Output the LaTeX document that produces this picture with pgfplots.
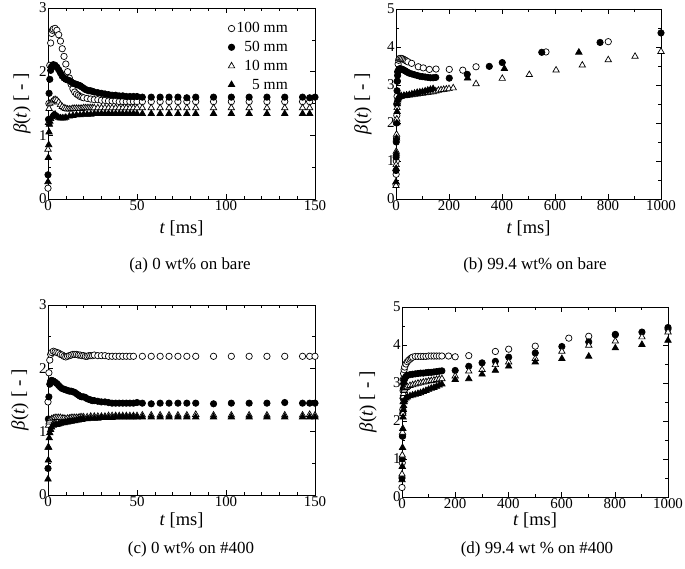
\documentclass[border=0pt]{standalone}
\usepackage{fontspec}
\setmainfont{Liberation Serif}
\usepackage{pgfplots}
\pgfplotsset{compat=1.18}
\pgfplotsset{
  myaxis/.style={
    scale only axis,
    clip=false,
    axis line style={line width=0.8bp},
    tick style={line width=0.6bp, black},
    major tick length=5bp, minor tick length=3bp,
    tick align=inside,
    /pgf/number format/assume math mode=true,
    /pgf/number format/1000 sep={},
    tick label style={font=\fontsize{15}{17}\selectfont, inner sep=1.2bp},
    xlabel={\textit{t} [ms]},
    ylabel={\textit{β}(\textit{t}) [ - ]},
    xlabel style={font=\fontsize{18.5}{20}\selectfont, anchor=center},
    ylabel style={font=\fontsize{19}{20}\selectfont, anchor=center},
  },
  c100/.style={only marks, mark=*, mark size=3.2bp, mark options={fill=white, draw=black, line width=0.7bp}},
  c50/.style={only marks, mark=*, mark size=3.2bp, mark options={fill=black, draw=black, line width=0.7bp}},
  t10/.style={only marks, mark=triangle*, mark size=3.7bp, mark options={fill=white, draw=black, line width=0.7bp}},
  t5/.style={only marks, mark=triangle*, mark size=3.7bp, mark options={fill=black, draw=black, line width=0.7bp}},
  shortax/.style={xmin=0, xmax=150, ymin=0, ymax=3, xtick={0,50,100,150}, ytick={0,1,2,3}, minor x tick num=4, minor y tick num=1},
  longax/.style={xmin=0, xmax=1000, ymin=0, ymax=5, xtick={0,200,400,600,800,1000}, ytick={0,1,2,3,4,5}, minor x tick num=1, minor y tick num=1},
}
\begin{document}
\begin{tikzpicture}
\path[use as bounding box] (0,0) rectangle (685bp,569bp);
% ---------------- (a)
\begin{axis}[myaxis, shortax, at={(48bp,370bp)}, anchor=south west, width=267bp, height=191bp,
  xlabel style={at={(axis description cs:0.5,-0.152)}},
  ylabel style={at={(axis description cs:-0.097,0.5)}},
  legend style={draw=none, fill=none, at={(0.91,0.94)}, anchor=north east, font=\fontsize{15.5}{17}\selectfont, row sep=3bp, inner sep=1bp},
  legend cell align=right]
\addplot[c100] coordinates {(0,0.17)(0.5,1.5)(1,2.1)(1.5,2.45)(2,2.6)(2.5,2.65)(3,2.67)(4,2.68)(5,2.65)(6,2.58)(7,2.48)(8,2.36)(9,2.24)(10,2.12)(11,2.0)(12,1.9)(13,1.8)(14,1.73)(15,1.68)(16,1.65)(17,1.63)(18,1.61)(19,1.6)(20,1.59)(22,1.58)(24,1.57)(26,1.56)(28,1.56)(30,1.55)(32,1.55)(34,1.54)(36,1.54)(38,1.54)(40,1.53)(42,1.53)(44,1.53)(46,1.53)(48,1.53)(50,1.53)(53,1.53)(58,1.53)(63,1.53)(68,1.53)(73,1.53)(78,1.53)(83,1.53)(93,1.53)(103,1.53)(113,1.53)(123,1.53)(133,1.53)(143,1.53)(147,1.53)};
\addlegendentry{100 mm}
\addplot[c50] coordinates {(0,0.38)(0.3,1.25)(0.6,1.66)(1,1.88)(1.5,2.02)(2,2.08)(3,2.11)(4,2.1)(5,2.07)(6,2.03)(7,1.98)(8,1.93)(9,1.9)(10,1.88)(11,1.87)(12,1.86)(13,1.84)(14,1.82)(15,1.81)(16,1.8)(17,1.79)(18,1.78)(19,1.76)(20,1.74)(21,1.72)(22,1.71)(23,1.7)(24,1.7)(25,1.69)(26,1.68)(28,1.67)(30,1.66)(32,1.65)(34,1.64)(36,1.63)(38,1.63)(40,1.62)(42,1.62)(44,1.61)(46,1.61)(48,1.61)(50,1.61)(53,1.6)(58,1.6)(63,1.6)(68,1.6)(73,1.6)(78,1.59)(83,1.6)(93,1.6)(103,1.6)(113,1.6)(123,1.6)(133,1.6)(143,1.6)(147,1.59)(150,1.6)};
\addlegendentry{50 mm}
\addplot[t10] coordinates {(0,0.78)(0.3,1.2)(0.6,1.42)(1,1.5)(2,1.52)(3,1.55)(4,1.56)(5,1.55)(6,1.52)(7,1.48)(8,1.45)(9,1.43)(10,1.42)(11,1.41)(12,1.41)(13,1.41)(14,1.42)(15,1.42)(16,1.42)(17,1.42)(18,1.42)(19,1.42)(20,1.43)(21,1.43)(22,1.43)(23,1.43)(24,1.43)(25,1.43)(26,1.43)(28,1.43)(30,1.43)(32,1.43)(34,1.43)(36,1.43)(38,1.43)(40,1.43)(42,1.43)(44,1.43)(46,1.43)(48,1.43)(50,1.43)(53,1.43)(58,1.43)(63,1.43)(68,1.43)(73,1.43)(78,1.43)(83,1.43)(93,1.43)(103,1.43)(113,1.43)(123,1.43)(133,1.43)(143,1.43)(147,1.43)};
\addlegendentry{10 mm}
\addplot[t5] coordinates {(0,0.27)(0.2,0.65)(0.4,0.85)(0.6,1.05)(0.8,1.17)(1,1.22)(1.5,1.26)(2,1.29)(3,1.32)(4,1.33)(5,1.3)(6,1.28)(7,1.27)(8,1.27)(9,1.27)(10,1.28)(12,1.3)(14,1.31)(16,1.32)(18,1.32)(20,1.33)(22,1.33)(24,1.33)(26,1.34)(28,1.34)(30,1.34)(32,1.34)(34,1.34)(36,1.34)(38,1.34)(40,1.34)(42,1.34)(44,1.34)(46,1.34)(48,1.34)(50,1.34)(53,1.34)(58,1.34)(63,1.34)(68,1.34)(73,1.34)(78,1.34)(83,1.34)(93,1.34)(103,1.34)(113,1.34)(123,1.34)(133,1.34)(143,1.34)(147,1.34)};
\addlegendentry{5 mm}
\end{axis}
% ---------------- (b)
\begin{axis}[myaxis, longax, at={(396bp,370bp)}, anchor=south west, width=265bp, height=190bp,
  xlabel style={at={(axis description cs:0.5,-0.152)}},
  ylabel style={at={(axis description cs:-0.125,0.5)}}]
\addplot[c100] coordinates {(0,0.38)(0.5,0.65)(1,1.0)(2,1.6)(3,2.2)(4,2.7)(5,3.1)(6,3.35)(8,3.55)(10,3.65)(12,3.69)(15,3.7)(20,3.7)(25,3.69)(30,3.67)(35,3.65)(40,3.63)(45,3.61)(59,3.57)(84,3.48)(103,3.45)(126,3.41)(151,3.42)(201,3.41)(252,3.39)(302,3.48)(566,3.87)(801,4.14)};
\addplot[c50] coordinates {(0,0.75)(0.5,1.1)(1,1.5)(2,2.0)(3,2.5)(4,2.85)(5,3.1)(6,3.25)(8,3.35)(10,3.4)(12,3.42)(15,3.43)(20,3.42)(25,3.41)(30,3.39)(35,3.37)(40,3.35)(45,3.33)(50,3.31)(60,3.29)(70,3.27)(80,3.25)(90,3.23)(100,3.22)(110,3.21)(120,3.2)(130,3.19)(140,3.19)(150,3.2)(201,3.18)(269,3.28)(352,3.49)(401,3.59)(550,3.86)(770,4.12)(1000,4.37)};
\addplot[t10] coordinates {(0,0.35)(0.5,0.9)(1,1.25)(2,1.7)(3,2.1)(4,2.4)(5,2.55)(6,2.62)(8,2.66)(10,2.68)(15,2.69)(20,2.7)(30,2.71)(40,2.72)(50,2.73)(60,2.74)(70,2.75)(80,2.76)(90,2.77)(100,2.78)(110,2.79)(120,2.8)(130,2.81)(140,2.82)(150,2.84)(160,2.86)(170,2.87)(180,2.88)(190,2.89)(200,2.9)(216,2.92)(302,3.03)(401,3.17)(503,3.27)(604,3.39)(703,3.52)(801,3.66)(902,3.75)(1000,3.88)};
\addplot[t5] coordinates {(0,0.45)(0.5,0.8)(1,1.2)(2,1.6)(3,2.0)(4,2.3)(5,2.5)(6,2.6)(8,2.65)(10,2.68)(15,2.7)(20,2.71)(30,2.72)(40,2.73)(50,2.74)(60,2.76)(70,2.78)(80,2.8)(90,2.81)(100,2.82)(110,2.84)(120,2.86)(130,2.88)(140,2.9)(270,3.18)(409,3.43)(690,3.86)};
\end{axis}
% ---------------- (c)
\begin{axis}[myaxis, shortax, at={(48bp,74bp)}, anchor=south west, width=267bp, height=190bp,
  xlabel style={at={(axis description cs:0.5,-0.135)}},
  ylabel style={at={(axis description cs:-0.105,0.5)}}]
\addplot[c100] coordinates {(0,1.47)(0.5,1.93)(1,2.13)(1.5,2.22)(2,2.25)(3,2.27)(4,2.26)(5,2.25)(6,2.24)(7,2.22)(8,2.21)(9,2.19)(10,2.18)(11,2.19)(12,2.2)(13,2.21)(14,2.22)(15,2.22)(16,2.22)(17,2.21)(18,2.21)(19,2.2)(20,2.2)(21,2.19)(22,2.19)(23,2.2)(24,2.2)(25,2.2)(26,2.21)(28,2.2)(30,2.2)(32,2.2)(34,2.19)(36,2.19)(38,2.19)(40,2.19)(42,2.19)(44,2.19)(46,2.19)(48,2.19)(53,2.19)(58,2.19)(63,2.19)(68,2.19)(73,2.19)(78,2.19)(83,2.19)(93,2.19)(103,2.19)(113,2.19)(123,2.19)(133,2.19)(143,2.19)(147,2.19)(150,2.19)};
\addplot[c50] coordinates {(0,0.42)(0.2,1.2)(0.5,1.55)(1,1.75)(1.5,1.8)(2,1.81)(3,1.8)(4,1.78)(5,1.76)(6,1.73)(7,1.7)(8,1.68)(9,1.67)(10,1.66)(11,1.65)(12,1.64)(13,1.64)(14,1.63)(15,1.62)(16,1.6)(17,1.58)(18,1.56)(19,1.55)(20,1.55)(21,1.54)(22,1.52)(23,1.51)(24,1.5)(25,1.49)(26,1.49)(28,1.48)(30,1.47)(32,1.47)(34,1.46)(36,1.45)(38,1.45)(40,1.45)(42,1.45)(44,1.45)(46,1.45)(48,1.45)(50,1.46)(53,1.45)(58,1.44)(63,1.45)(68,1.45)(73,1.45)(78,1.45)(83,1.45)(93,1.44)(103,1.45)(113,1.45)(123,1.45)(133,1.46)(143,1.45)(147,1.45)(150,1.45)};
\addplot[t10] coordinates {(0,0.75)(0.3,1.1)(0.6,1.15)(1,1.18)(2,1.2)(3,1.21)(4,1.22)(5,1.22)(6,1.22)(7,1.22)(8,1.21)(9,1.21)(10,1.2)(11,1.21)(12,1.21)(13,1.22)(14,1.22)(15,1.22)(16,1.22)(17,1.22)(18,1.23)(19,1.23)(20,1.23)(22,1.23)(24,1.24)(26,1.24)(28,1.24)(30,1.24)(32,1.24)(34,1.25)(36,1.25)(38,1.25)(40,1.25)(42,1.25)(44,1.25)(46,1.25)(48,1.25)(50,1.25)(53,1.26)(58,1.26)(63,1.26)(68,1.26)(73,1.26)(78,1.26)(83,1.27)(93,1.26)(103,1.26)(113,1.26)(123,1.26)(133,1.26)(143,1.26)(147,1.27)(150,1.26)};
\addplot[t5] coordinates {(0,0.25)(0.2,0.55)(0.4,0.75)(0.7,0.9)(1,0.98)(1.5,1.03)(2,1.07)(3,1.1)(4,1.11)(5,1.11)(6,1.12)(7,1.13)(8,1.14)(9,1.14)(10,1.15)(11,1.15)(12,1.16)(13,1.16)(14,1.17)(15,1.17)(16,1.18)(17,1.18)(18,1.19)(19,1.19)(20,1.2)(22,1.2)(24,1.21)(26,1.21)(28,1.21)(30,1.22)(32,1.22)(34,1.22)(36,1.22)(38,1.23)(40,1.23)(42,1.23)(44,1.23)(46,1.23)(48,1.23)(50,1.23)(53,1.23)(58,1.23)(63,1.23)(68,1.23)(73,1.23)(78,1.23)(83,1.23)(93,1.23)(103,1.23)(113,1.23)(123,1.23)(133,1.23)(143,1.23)(147,1.23)(150,1.23)};
\end{axis}
% ---------------- (d)
\begin{axis}[myaxis, longax, at={(402bp,72bp)}, anchor=south west, width=266bp, height=190bp,
  xlabel style={at={(axis description cs:0.5,-0.125)}},
  ylabel style={at={(axis description cs:-0.128,0.5)}}]
\addplot[c100] coordinates {(0,0.25)(1,0.9)(2,1.6)(3,2.3)(4,2.8)(5,3.1)(6,3.25)(8,3.35)(10,3.42)(15,3.5)(20,3.56)(25,3.6)(30,3.63)(35,3.66)(40,3.68)(50,3.7)(60,3.7)(70,3.7)(80,3.7)(90,3.7)(100,3.71)(110,3.71)(120,3.71)(130,3.71)(140,3.71)(150,3.71)(175,3.71)(200,3.69)(251,3.72)(351,3.83)(401,3.89)(501,3.97)(627,4.18)(702,4.23)(802,4.28)(1000,4.42)};
\addplot[c50] coordinates {(0,0.5)(1,1.0)(2,1.6)(3,2.2)(4,2.6)(5,2.85)(6,2.98)(8,3.07)(10,3.12)(15,3.17)(20,3.2)(30,3.22)(40,3.23)(50,3.24)(60,3.25)(70,3.26)(80,3.26)(90,3.27)(100,3.28)(110,3.28)(120,3.29)(130,3.3)(140,3.31)(150,3.32)(200,3.33)(251,3.44)(301,3.53)(351,3.57)(401,3.68)(501,3.79)(601,3.96)(702,4.08)(802,4.27)(902,4.34)(1000,4.46)};
\addplot[t10] coordinates {(0,0.6)(1,1.1)(2,1.7)(3,2.2)(4,2.5)(5,2.65)(6,2.72)(8,2.8)(10,2.84)(15,2.88)(20,2.9)(30,2.93)(40,2.95)(50,2.97)(60,2.99)(70,3.0)(80,3.02)(90,3.03)(100,3.05)(110,3.06)(120,3.07)(130,3.09)(140,3.1)(150,3.11)(200,3.18)(251,3.31)(301,3.35)(351,3.48)(401,3.55)(501,3.64)(601,3.83)(702,3.99)(802,4.1)(902,4.21)(1000,4.34)};
\addplot[t5] coordinates {(0,0.45)(1,0.8)(2,1.3)(3,1.8)(4,2.1)(5,2.3)(6,2.4)(8,2.5)(10,2.55)(15,2.6)(20,2.63)(30,2.66)(40,2.68)(50,2.7)(60,2.72)(70,2.74)(80,2.77)(90,2.8)(100,2.83)(110,2.86)(120,2.88)(130,2.91)(140,2.94)(150,2.97)(200,3.09)(251,3.11)(301,3.23)(351,3.33)(401,3.44)(501,3.55)(601,3.64)(702,3.7)(802,3.92)(902,4.01)(1000,4.12)};
\end{axis}
% captions
\node[font=\fontsize{17}{19}\selectfont] at (190bp,304bp) {(a) 0 wt\% on bare};
\node[font=\fontsize{17}{19}\selectfont] at (535bp,304bp) {(b) 99.4 wt\% on bare};
\node[font=\fontsize{17}{19}\selectfont] at (191bp,20bp) {(c) 0 wt\% on \#400};
\node[font=\fontsize{17}{19}\selectfont] at (537bp,20bp) {(d) 99.4 wt \% on \#400};
\end{tikzpicture}
\end{document}
